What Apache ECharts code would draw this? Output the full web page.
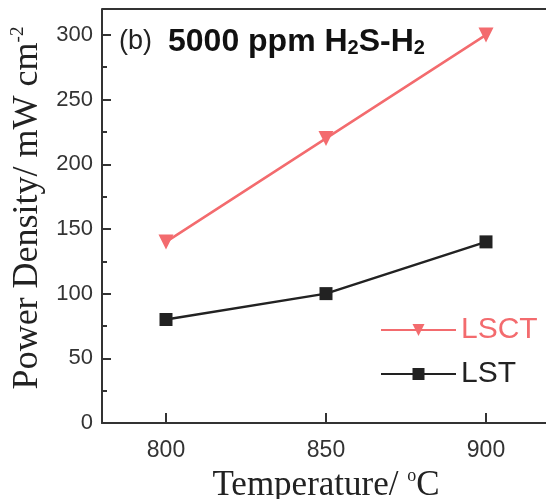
<!DOCTYPE html>
<html><head><meta charset="utf-8">
<script src="https://cdn.jsdelivr.net/npm/echarts@6/dist/echarts.min.js"></script>
<style>html,body{margin:0;padding:0;background:#fff}#c{width:546px;height:499px}</style>
</head><body><div id="c"></div>
<script>
const temperatures = [800, 850, 900];
const lsct = [140, 220, 300];
const lst = [80, 100, 140];
const yTicks = [0, 50, 100, 150, 200, 250, 300];
const xTicks = [800, 850, 900];

const chart = echarts.init(document.getElementById('c'));
chart.setOption({
  animation: false,
  backgroundColor: '#fff',
  grid: { left: 102, right: -4, top: 9, bottom: 76, show: false, containLabel: false, outerBoundsMode: 'none' },
  title: {
    text: '{b|(b)}{g| }{t|5000 ppm H}{s|2}{t|S-H}{s|2}',
    left: 114, top: 21,
    textStyle: {
      rich: {
        b: { fontFamily: 'Liberation Sans', fontSize: 27, fontWeight: 'normal', color: '#222' },
        g: { fontSize: 12, width: 16 },
        t: { fontFamily: 'Liberation Sans', fontSize: 32, fontWeight: 'bold', color: '#111' },
        s: { fontFamily: 'Liberation Sans', fontSize: 20, fontWeight: 'bold', color: '#111', verticalAlign: 'bottom', padding: [10, 0, 0, 0] }
      }
    }
  },
  legend: {
    orient: 'vertical',
    left: 375, top: 310,
    itemWidth: 75, itemHeight: 15, itemGap: 14,
    data: ['LSCT', 'LST'],
    formatter: n => '{' + (n === 'LSCT' ? 'r' : 'k') + '|' + n + '}',
    textStyle: {
      rich: {
        r: { fontFamily: 'Liberation Sans', fontSize: 30, color: '#f36b6e' },
        k: { fontFamily: 'Liberation Sans', fontSize: 30, color: '#222' }
      }
    }
  },
  xAxis: {
    type: 'value', min: 780, max: 920,
    name: 'Temperature/ {sup|o}C', nameLocation: 'middle', nameGap: 43,
    nameTextStyle: {
      fontFamily: 'Liberation Serif', fontSize: 35, color: '#222',
      rich: { sup: { fontFamily: 'Liberation Serif', fontSize: 18, color: '#222', verticalAlign: 'top', padding: [0, 0, 19, 0] } }
    },
    axisLine: { show: true, onZero: false, lineStyle: { color: '#333', width: 2 } },
    axisTick: { show: true, inside: true, length: 10, lineStyle: { color: '#333', width: 2 },
      customValues: xTicks },
    axisLabel: { fontFamily: 'Liberation Sans', fontSize: 23, color: '#333', margin: 16,
      customValues: xTicks },
    splitLine: { show: false }
  },
  yAxis: {
    type: 'value', min: 0, max: 320, interval: 50,
    name: 'Power Density/ mW cm{sup|-2}', nameLocation: 'middle', nameGap: 53, nameRotate: 90,
    nameTextStyle: {
      fontFamily: 'Liberation Serif', fontSize: 36, color: '#222', padding: [0, 0, 0, 16],
      rich: { sup: { fontFamily: 'Liberation Serif', fontSize: 19, color: '#222', verticalAlign: 'top', padding: [0, 0, 18, 0] } }
    },
    axisLine: { show: true, lineStyle: { color: '#333', width: 2 } },
    axisTick: { show: true, inside: true, length: 9, lineStyle: { color: '#333', width: 2 },
      customValues: yTicks },
    minorTick: { show: true, splitNumber: 2, length: 5, lineStyle: { color: '#333', width: 2 } },
    axisLabel: { fontFamily: 'Liberation Sans', fontSize: 22, color: '#333', margin: 9,
      customValues: yTicks },
    splitLine: { show: false }
  },
  series: [
    {
      name: 'LSCT', type: 'line',
      data: temperatures.map((t, i) => [t, lsct[i]]),
      symbol: 'triangle', symbolRotate: 180, symbolSize: 15,
      itemStyle: { color: '#f36b6e' },
      lineStyle: { color: '#f36b6e', width: 2.5 }
    },
    {
      name: 'LST', type: 'line',
      data: temperatures.map((t, i) => [t, lst[i]]),
      symbol: 'rect', symbolSize: 13,
      itemStyle: { color: '#222' },
      lineStyle: { color: '#222', width: 2.5 }
    }
  ],
  graphic: [
    { type: 'line', shape: { x1: 102, y1: 9, x2: 546, y2: 9 }, style: { stroke: '#333', lineWidth: 2 } }
  ]
});
</script></body></html>
